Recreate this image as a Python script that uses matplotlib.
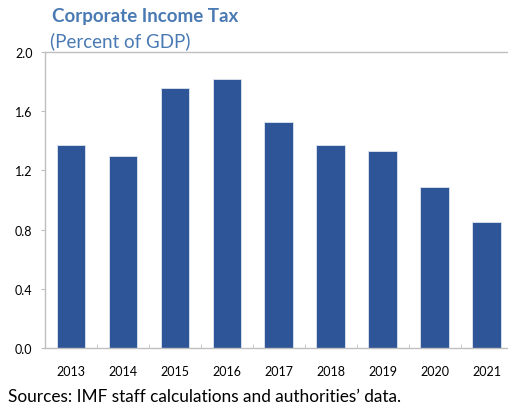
import matplotlib.pyplot as plt
import numpy as np

years = ['2013', '2014', '2015', '2016', '2017', '2018', '2019', '2020', '2021']
cit = [1.37, 1.30, 1.76, 1.82, 1.53, 1.37, 1.33, 1.09, 0.85]
yticks = [0.0, 0.4, 0.8, 1.2, 1.6, 2.0]

plt.rcParams['font.family'] = ['Lato', 'DejaVu Sans']

fig = plt.figure(figsize=(5.08, 4.10), dpi=100)
W, H = 508, 410
ax = fig.add_axes([45 / W, (H - 349) / H, (512.5 - 45) / W, 296 / H])

x = np.arange(len(years))
ax.bar(x, cit, width=0.55, color='#2E5597', edgecolor='#dfe5f0', linewidth=0.6, zorder=2)

ax.set_xlim(-0.5, len(years) - 0.5)
ax.set_ylim(0, 2.0)
ax.set_yticks(yticks)
ax.set_yticklabels(['%.1f' % v for v in yticks], fontsize=9)
ax.set_xticks(x)
ax.set_xticklabels(years, fontsize=9)
ax.tick_params(axis='x', length=0, pad=12)
ax.set_xticks(x[:-1] + 0.5, minor=True)
ax.tick_params(axis='x', which='minor', direction='in', length=3, color='#bfbfbf')
ax.tick_params(axis='y', direction='out', length=3, color='#bfbfbf', pad=6)

for s in ['left', 'bottom', 'top']:
    ax.spines[s].set_color('#bfbfbf')
    ax.spines[s].set_linewidth(1.0)
ax.spines['right'].set_visible(False)

blue = '#4A7AB3'
fig.text(52 / W, 1 - 22 / H, 'Corporate Income Tax', fontsize=13.5, fontweight='bold',
         color=blue, ha='left', va='baseline')
fig.text(50 / W, 1 - 47 / H, '(Percent of GDP)', fontsize=13.5, color=blue,
         ha='left', va='baseline')
fig.text(8 / W, 1 - 402 / H, 'Sources: IMF staff calculations and authorities\u2019 data.',
         fontsize=12.4, color='black', ha='left', va='baseline')

fig.savefig('out.png', dpi=100)
